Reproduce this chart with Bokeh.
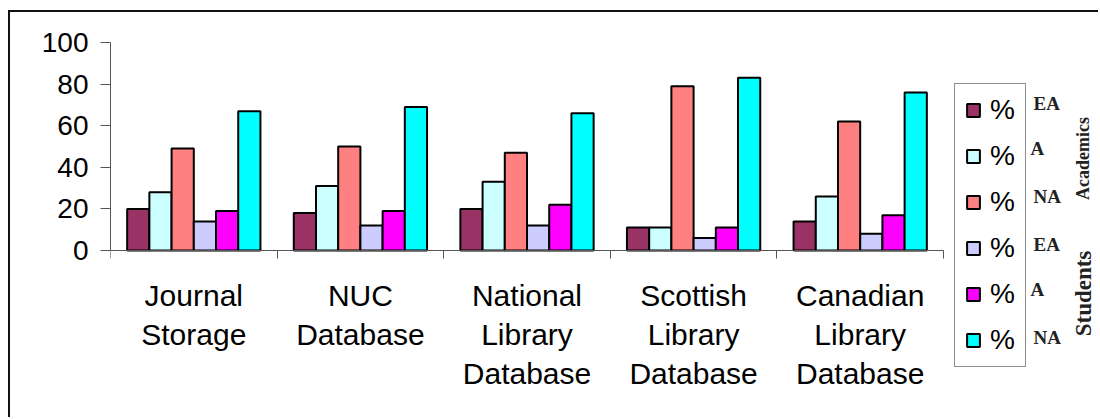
from math import pi
from bokeh.plotting import figure
from bokeh.models import (ColumnDataSource, Range1d, LinearAxis,
                          FixedTicker, Legend, LegendItem, Label)
from bokeh.transform import dodge
from bokeh.layouts import column
from bokeh.embed import file_html
from bokeh.resources import INLINE

categories = ["Journal\nStorage", "NUC\nDatabase", "National\nLibrary\nDatabase",
              "Scottish\nLibrary\nDatabase", "Canadian\nLibrary\nDatabase"]
academics_ea = [20, 18, 20, 11, 14]
academics_a = [28, 31, 33, 11, 26]
academics_na = [49, 50, 47, 79, 62]
students_ea = [14, 12, 12, 6, 8]
students_a = [19, 19, 22, 11, 17]
students_na = [67, 69, 66, 83, 76]
y_ticks = [0, 20, 40, 60, 80, 100]

series = [academics_ea, academics_a, academics_na, students_ea, students_a, students_na]
series_names = ["aca_ea", "aca_a", "aca_na", "stu_ea", "stu_a", "stu_na"]
colors = ["#993366", "#CCFFFF", "#FF8080", "#CCCCFF", "#FF00FF", "#00FFFF"]
legend_tags = ["EA", "A", "NA", "EA", "A", "NA"]

ncat = len(categories)
centers = [i + 0.5 for i in range(ncat)]
bounds_ticks = list(range(ncat + 1))
data = {"xc": centers}
for n, s in zip(series_names, series):
    data[n] = s
source = ColumnDataSource(data)

FONT = "Liberation Sans"
SERIF = "Liberation Serif"

W, H = 1088, 405
ML, MT = 100, 30
px_per_cat = 166.6
px_per_unit = 2.08
frame_w = W - ML
frame_h = H - MT

p = figure(x_range=Range1d(0, frame_w / px_per_cat),
           y_range=Range1d(100 - frame_h / px_per_unit, 100),
           width=W, height=H, output_backend="svg", toolbar_location=None,
           x_axis_location=None, min_border_left=ML, min_border_top=MT,
           min_border_right=0, min_border_bottom=0)
p.grid.visible = False
p.outline_line_color = None

bar_w = 0.8 / 6
renderers = []
for i, (n, c) in enumerate(zip(series_names, colors)):
    r = p.vbar(x=dodge("xc", (i - 2.5) * bar_w), top=n, width=bar_w,
               bottom=0, source=source, fill_color=c, line_color="black", line_width=2)
    renderers.append(r)

# y axis
ya = p.yaxis[0]
ya.ticker = FixedTicker(ticks=y_ticks)
ya.bounds = (0, 100)
ya.major_tick_out = 10
ya.major_tick_in = 0
ya.minor_tick_line_color = None
ya.axis_line_color = "#555555"
ya.major_tick_line_color = "#555555"
ya.major_label_text_font = FONT
ya.major_label_text_font_size = "28px"
ya.major_label_text_color = "black"
ya.major_label_standoff = 12

# category axis at y=0: labels at centers, minor ticks at category boundaries
xa = LinearAxis(ticker=FixedTicker(ticks=centers, minor_ticks=bounds_ticks),
                fixed_location=0, bounds=(0, ncat))
xa.major_label_overrides = {c: lab for c, lab in zip(centers, categories)}
xa.axis_line_color = "#555555"
xa.major_tick_line_color = None
xa.major_tick_out = 0
xa.major_tick_in = 0
xa.minor_tick_line_color = "#555555"
xa.minor_tick_out = 8
xa.minor_tick_in = 0
xa.major_label_text_font = FONT
xa.major_label_text_font_size = "30px"
xa.major_label_text_color = "black"
xa.major_label_text_line_height = 1.19
xa.major_label_standoff = 20
p.add_layout(xa, "below")

items = [LegendItem(label="%", renderers=[r]) for r in renderers]
legend = Legend(items=items, location=(844, 50), orientation="vertical",
                glyph_width=16, glyph_height=16, label_height=30, spacing=14,
                padding=10, margin=0, label_standoff=9,
                label_text_font=FONT, label_text_font_size="28px",
                label_text_color="black",
                border_line_color="#222222", border_line_width=1,
                background_fill_color="white", background_fill_alpha=1)
p.add_layout(legend, "center")

tag_y = [314, 269, 221, 173, 128, 80]
tag_x = [923, 920, 923, 923, 920, 923]
for t, xx, yy in zip(legend_tags, tag_x, tag_y):
    p.add_layout(Label(x=xx, y=yy, x_units="screen", y_units="screen", text=t,
                       text_font=SERIF, text_font_style="bold", text_font_size="19px",
                       text_baseline="middle", text_align="left", text_color="#222222"))

p.add_layout(Label(x=972, y=259, x_units="screen", y_units="screen", text="Academics",
                   angle=pi / 2, text_font=SERIF, text_font_style="bold", text_font_size="18px",
                   text_baseline="middle", text_align="center", text_color="#222222"))
p.add_layout(Label(x=973, y=124, x_units="screen", y_units="screen", text="Students",
                   angle=pi / 2, text_font=SERIF, text_font_style="bold", text_font_size="23px",
                   text_baseline="middle", text_align="center", text_color="#222222"))

layout = column(p, styles={"margin-left": "8px", "margin-top": "10px",
                           "border-left": "2px solid #111111", "border-top": "2px solid #111111"})

open("out.html", "w").write(file_html(layout, INLINE))
